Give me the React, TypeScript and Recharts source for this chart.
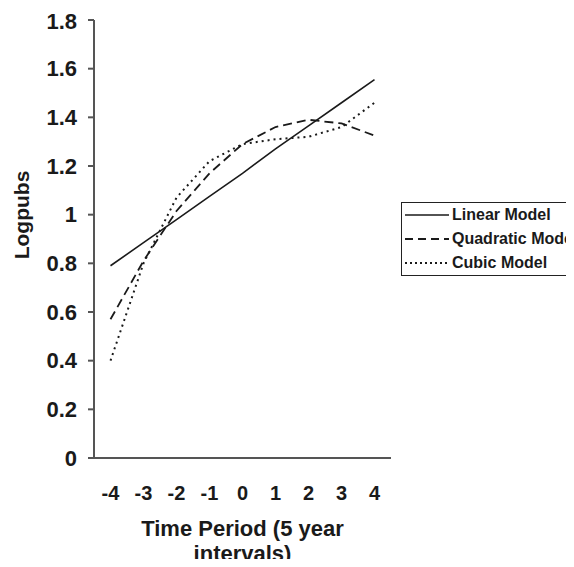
import React from 'react';
import { LineChart, Line, XAxis, YAxis, Legend, Label } from 'recharts';

const timePeriods = [-4, -3, -2, -1, 0, 1, 2, 3, 4];
const tickLabels = ['-4', '-3', '-2', '-1', '0', '1', '2', '3', '4'];
const tickBounds = [-4.5, -3.5, -2.5, -1.5, -0.5, 0.5, 1.5, 2.5, 3.5, 4.5];
const yTicks = [0, 0.2, 0.4, 0.6, 0.8, 1, 1.2, 1.4, 1.6, 1.8];
const yTickLabels = ['0', '0.2', '0.4', '0.6', '0.8', '1', '1.2', '1.4', '1.6', '1.8'];

const linearModel = [0.79, 0.885, 0.98, 1.075, 1.17, 1.27, 1.365, 1.46, 1.555];
const quadraticModel = [0.57, 0.81, 1.015, 1.17, 1.29, 1.36, 1.39, 1.375, 1.325];
const cubicModel = [0.4, 0.8, 1.07, 1.22, 1.29, 1.31, 1.32, 1.36, 1.46];

const seriesNames = ['Linear Model', 'Quadratic Model', 'Cubic Model'];
const seriesKeys = ['linear', 'quadratic', 'cubic'];
const seriesDash = ['', '9 5', '2 4'];
const seriesWidth = [1.6, 1.8, 2];
const legendDash = ['', '8 5', '2 3'];

const FONT = '"Liberation Sans", Arial, sans-serif';
const INK = '#1a1a1a';
const AXIS = '#555';

const data = timePeriods.map((t, i) => ({
  t,
  linear: linearModel[i],
  quadratic: quadraticModel[i],
  cubic: cubicModel[i],
}));

const XLabelTick = (props: any) => {
  const { x, y, payload } = props;
  const idx = timePeriods.indexOf(payload.value);
  return (
    <text x={x} y={y + 41} textAnchor="middle" fontSize={20} fontWeight="bold" fontFamily={FONT} fill={INK}>
      {tickLabels[idx]}
    </text>
  );
};

const XTitle = (props: any) => {
  const vb = props.viewBox;
  const cx = vb.x + vb.width / 2;
  return (
    <g>
      <text x={cx} y={vb.y + 77} textAnchor="middle" fontSize={22} fontWeight="bold" fontFamily={FONT} fill={INK}>
        Time Period (5 year
      </text>
      <text x={cx} y={vb.y + 102} textAnchor="middle" fontSize={22} fontWeight="bold" fontFamily={FONT} fill={INK}>
        intervals)
      </text>
    </g>
  );
};

const YTitle = (props: any) => {
  const vb = props.viewBox;
  const x = 14;
  const y = vb.y + vb.height / 2 - 24;
  return (
    <text x={x} y={y} dy="0.35em" textAnchor="middle" transform={`rotate(-90, ${x}, ${y})`}
      fontSize={21} fontWeight="bold" fontFamily={FONT} fill={INK}>
      Logpubs
    </text>
  );
};

const LegendBox = (props: any) => {
  const payload = props.payload || [];
  return (
    <div style={{ border: '1px solid #222', width: 200, height: 74, boxSizing: 'border-box', paddingLeft: 3, background: '#fff' }}>
      {seriesNames.map((name, i) => {
        const entry = payload.find((p: any) => p.value === name);
        const dash = legendDash[i];
        return (
          <div key={name} style={{ height: 24.2, display: 'flex', alignItems: 'center', whiteSpace: 'nowrap' }}>
            <svg width={44} height={10} style={{ marginRight: 3, flex: 'none' }}>
              <line x1={0} x2={44} y1={5} y2={5} stroke={INK} strokeWidth={i === 0 ? 1.4 : 1.8} strokeDasharray={dash || undefined} />
            </svg>
            <span style={{ fontFamily: FONT, fontWeight: 'bold', fontSize: 16, color: INK }}>
              {entry ? entry.value : name}
            </span>
          </div>
        );
      })}
    </div>
  );
};

export default function App() {
  return (
    <div style={{ width: 566, height: 559, overflow: 'hidden', marginBottom: -8, background: '#fff' }}>
      <LineChart width={566} height={559} data={data} margin={{ top: 12, right: 183, bottom: 8, left: 0 }}>
        <XAxis
          xAxisId="bounds"
          type="number"
          dataKey="t"
          domain={[-4.5, 4.5]}
          ticks={tickBounds}
          tick={false}
          tickSize={6}
          height={1}
          stroke={AXIS}
          strokeWidth={2}
          axisLine={{ stroke: AXIS, strokeWidth: 2 }}
          tickLine={{ stroke: AXIS, strokeWidth: 2 }}
        />
        <XAxis
          xAxisId="labels"
          type="number"
          dataKey="t"
          domain={[-4.5, 4.5]}
          ticks={timePeriods}
          tick={<XLabelTick />}
          tickLine={false}
          axisLine={false}
          tickSize={0}
          tickMargin={0}
          height={100}
        >
          <Label content={<XTitle />} />
        </XAxis>
        <YAxis
          type="number"
          domain={[0, 1.8]}
          ticks={yTicks}
          width={86}
          tickSize={6}
          tickMargin={11}
          tickFormatter={(v: number) => yTickLabels[yTicks.indexOf(v)] ?? String(v)}
          tick={{ fill: INK, fontSize: 22, fontWeight: 'bold', fontFamily: FONT }}
          axisLine={{ stroke: AXIS, strokeWidth: 2 }}
          tickLine={{ stroke: AXIS, strokeWidth: 2 }}
        >
          <Label content={<YTitle />} />
        </YAxis>
        <Legend
          layout="horizontal"
          verticalAlign="middle"
          align="center"
          content={<LegendBox />}
          wrapperStyle={{ left: 393, top: 194, width: 200, height: 74 }}
        />
        {seriesKeys.map((k, i) => (
          <Line
            key={k}
            xAxisId="bounds"
            type="linear"
            dataKey={k}
            name={seriesNames[i]}
            stroke={INK}
            strokeWidth={seriesWidth[i]}
            strokeDasharray={seriesDash[i] || undefined}
            dot={false}
            activeDot={false}
            isAnimationActive={false}
          />
        ))}
      </LineChart>
    </div>
  );
}
